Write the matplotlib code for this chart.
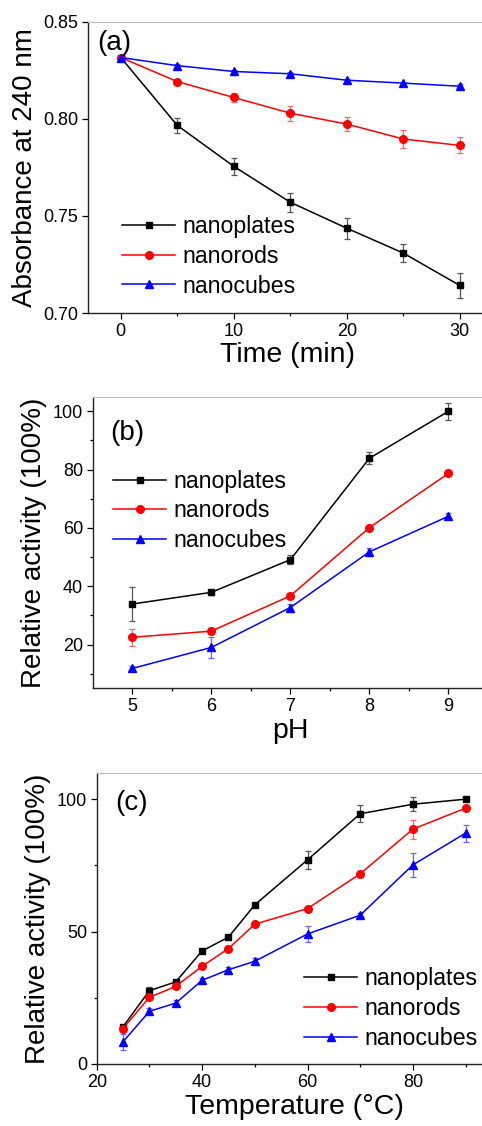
import matplotlib.pyplot as plt
import numpy as np

plt.rcParams['font.family'] = ['Liberation Sans', 'DejaVu Sans']

names = ["nanoplates", "nanorods", "nanocubes"]
colors = ["black", "red", "blue"]
ecolors = ["#555555", "#ff6666", "#6666ff"]
markers = ["s", "o", "^"]
msizes = [5, 5.5, 5.5]

# (a) absorbance vs time
time = [0, 5, 10, 15, 20, 25, 30]
abs_plates = [0.8317, 0.7967, 0.7756, 0.7571, 0.7437, 0.7309, 0.7142]
abs_rods = [0.8317, 0.8193, 0.8111, 0.8030, 0.7974, 0.7897, 0.7864]
abs_cubes = [0.8317, 0.8275, 0.8245, 0.8233, 0.8200, 0.8185, 0.8169]
err_plates_a = [0.0, 0.0039, 0.0045, 0.0050, 0.0055, 0.0048, 0.0064]
err_rods_a = [0.0, 0.0010, 0.0025, 0.0038, 0.0034, 0.0045, 0.0041]
err_cubes_a = [0.0, 0.0008, 0.0008, 0.0008, 0.0008, 0.0008, 0.0010]

# (b) relative activity vs pH
ph = [5, 6, 7, 8, 9]
ph_plates = [33.9, 37.9, 49.1, 83.9, 100.0]
ph_rods = [22.5, 24.6, 36.7, 60.1, 78.7]
ph_cubes = [11.8, 19.0, 32.7, 51.8, 64.0]
err_plates_b = [5.7, 0.8, 1.6, 2.0, 2.9]
err_rods_b = [3.0, 1.0, 1.0, 0.8, 1.0]
err_cubes_b = [1.0, 3.7, 1.2, 1.3, 1.0]

# (c) relative activity vs temperature
temp = [25, 30, 35, 40, 45, 50, 60, 70, 80, 90]
t_plates = [14.1, 27.7, 31.0, 42.7, 47.9, 60.1, 77.1, 94.5, 98.1, 100.0]
t_rods = [13.4, 25.2, 29.3, 36.9, 43.6, 52.8, 58.7, 71.8, 88.7, 96.6]
t_cubes = [8.4, 19.9, 23.0, 31.6, 35.6, 38.8, 49.1, 56.2, 75.2, 87.2]
err_plates_c = [0.5, 1.5, 0.8, 0.5, 0.5, 0.5, 3.5, 3.3, 2.7, 0.5]
err_rods_c = [0.8, 1.0, 0.6, 0.6, 0.6, 0.6, 0.6, 1.2, 3.6, 0.6]
err_cubes_c = [3.0, 1.2, 1.0, 1.0, 1.0, 1.2, 2.9, 1.0, 4.5, 3.2]

W, H = 482, 1126
fig = plt.figure(figsize=(W / 100, H / 100), dpi=100)


def make_axes(left, top, right, bottom):
    return fig.add_axes([left / W, 1 - bottom / H, (right - left) / W, (bottom - top) / H])


def style(ax):
    ax.spines['right'].set_visible(False)
    ax.spines['top'].set_color('#bbbbbb')
    for s in ['left', 'bottom']:
        ax.spines[s].set_color('#222222')
        ax.spines[s].set_linewidth(1.0)
    ax.tick_params(which='major', direction='out', length=4, width=0.9, labelsize=13, pad=3)
    ax.tick_params(which='minor', direction='out', length=2.5, width=0.9)
    ax.tick_params(top=False, right=False, which='both')


def draw(ax, x, ys, errs):
    lines = []
    for y, e, c, ec, m, ms, n in zip(ys, errs, colors, ecolors, markers, msizes, names):
        cont = ax.errorbar(x, y, yerr=e, color=c, ecolor=ec, elinewidth=0.9, capsize=2.5,
                           capthick=0.9, marker=m, markersize=ms, lw=1.1)
        lines.append(cont.lines[0])
    return lines


def legend(ax, lines, anchor):
    ax.legend(lines, names, loc='lower left', bbox_to_anchor=anchor, frameon=False,
              fontsize=16.7, handlelength=2.3, handletextpad=0.3, labelspacing=0.29,
              borderpad=0, borderaxespad=0)


# panel (a)
ax1 = make_axes(88, 22, 488, 313)
h1 = draw(ax1, time, [abs_plates, abs_rods, abs_cubes], [err_plates_a, err_rods_a, err_cubes_a])
ax1.set_xlim(-2.9, 32.5)
ax1.set_ylim(0.70, 0.85)
ax1.set_xticks([0, 10, 20, 30])
ax1.set_xticks([5, 15, 25], minor=True)
ax1.set_yticks([0.70, 0.75, 0.80, 0.85])
ax1.set_yticklabels(["0.70", "0.75", "0.80", "0.85"])
ax1.set_xlabel("Time (min)", fontsize=20.5, labelpad=2)
ax1.set_ylabel("Absorbance at 240 nm", fontsize=20, labelpad=4)
ax1.text(0.022, 0.928, "(a)", transform=ax1.transAxes, fontsize=20, va='center', ha='left')
style(ax1)
legend(ax1, h1, (0.085, 0.053))

# panel (b)
ax2 = make_axes(92.7, 396.7, 488, 688.3)
h2 = draw(ax2, ph, [ph_plates, ph_rods, ph_cubes], [err_plates_b, err_rods_b, err_cubes_b])
ax2.set_xlim(4.5, 9.5)
ax2.set_ylim(5, 105)
ax2.set_xticks([5, 6, 7, 8, 9])
ax2.set_xticks([5.5, 6.5, 7.5, 8.5, 9.5], minor=True)
ax2.set_yticks([20, 40, 60, 80, 100])
ax2.set_yticks([10, 30, 50, 70, 90], minor=True)
ax2.set_xlabel("pH", fontsize=20.5, labelpad=2)
ax2.set_ylabel("Relative activity (100%)", fontsize=20, labelpad=4)
ax2.text(0.044, 0.874, "(b)", transform=ax2.transAxes, fontsize=20, va='center', ha='left')
style(ax2)
legend(ax2, h2, (0.051, 0.467))

# panel (c)
ax3 = make_axes(96.7, 772.7, 492, 1064)
h3 = draw(ax3, temp, [t_plates, t_rods, t_cubes], [err_plates_c, err_rods_c, err_cubes_c])
ax3.set_xlim(20, 95)
ax3.set_ylim(0, 110)
ax3.set_xticks([20, 40, 60, 80])
ax3.set_xticks([30, 50, 70, 90], minor=True)
ax3.set_yticks([0, 50, 100])
ax3.set_yticks([25, 75], minor=True)
ax3.set_xlabel("Temperature (\u00b0C)", fontsize=20.5, labelpad=2)
ax3.set_ylabel("Relative activity (100%)", fontsize=20, labelpad=4)
ax3.text(0.046, 0.897, "(c)", transform=ax3.transAxes, fontsize=20, va='center', ha='left')
style(ax3)
legend(ax3, h3, (0.524, 0.049))

fig.savefig("out.png", dpi=100)
